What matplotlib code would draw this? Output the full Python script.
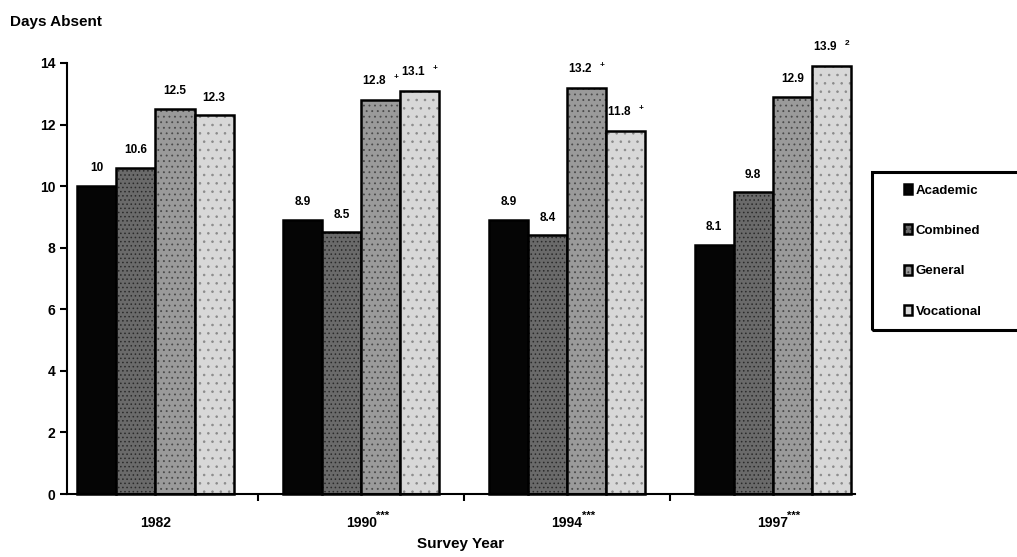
import matplotlib
matplotlib.use("Agg")
import matplotlib.pyplot as plt
import numpy as np
from matplotlib.patches import Rectangle

plt.rcParams["font.family"] = ["Liberation Sans", "DejaVu Sans"]
plt.rcParams["font.weight"] = "bold"
plt.rcParams["mathtext.fontset"] = "custom"
plt.rcParams["mathtext.rm"] = "Liberation Sans"
plt.rcParams["mathtext.bf"] = "Liberation Sans:bold"
plt.rcParams["hatch.linewidth"] = 0.6

years = ["1982", "1990", "1994", "1997"]
year_marks = ["", "***", "***", "***"]
tracks = ["Academic", "Combined", "General", "Vocational"]
academic = [10.0, 8.9, 8.9, 8.1]
combined = [10.6, 8.5, 8.4, 9.8]
general = [12.5, 12.8, 13.2, 12.9]
vocational = [12.3, 13.1, 11.8, 13.9]
notes = {
    "General": ["", "+", "+", ""],
    "Vocational": ["", "+", "+", "2"],
}

series = [academic, combined, general, vocational]
faces = ["#050505", "#6a6a6a", "#9a9a9a", "#d8d8d8"]
hatches = [None, "....", "...", ".."]
hatch_cols = ["#050505", "#2a2a2a", "#4a4a4a", "#8a8a8a"]

W, H = 1017, 557
fig = plt.figure(figsize=(W / 100, H / 100), dpi=100)
ax = fig.add_axes([67 / W, 63 / H, 788 / W, 431 / H])

x = np.arange(len(years))
w = 0.19
for i, (name, vals) in enumerate(zip(tracks, series)):
    xs = x + (i - 1.5) * w
    bars = ax.bar(xs, vals, w, color=faces[i], edgecolor="black", linewidth=1.8,
                  hatch=hatches[i], label=name, clip_on=False, zorder=2)
    for b in bars:
        b._hatch_color = matplotlib.colors.to_rgba(hatch_cols[i])
    marks = notes.get(name, [""] * len(years))
    for xi, v, m in zip(xs, vals, marks):
        lbl = f"{v:g}"
        if m:
            txt = r"$\mathbf{" + lbl + r"}\ \ ^{\mathbf{" + m + r"}}$"
        else:
            txt = lbl
        ax.text(xi, v + 0.38, txt, ha="center", va="bottom", fontsize=8.5,
                fontweight="bold", clip_on=False)

ax.set_xlim(-0.43, 3.40)
ax.set_ylim(0, 14)
ax.set_yticks(np.arange(0, 15, 2))
ax.set_xticks(x)
ax.set_xticklabels(years, fontsize=10)
ax.tick_params(axis="x", length=0, pad=16)
for xi, m in zip(x, year_marks):
    if m:
        ax.annotate(m, xy=(xi, 0), xycoords=("data", "axes fraction"),
                    xytext=(10.5, -16), textcoords="offset points",
                    ha="left", va="center", fontsize=8)
ax.set_xticks(x[:-1] + 0.5, minor=True)
ax.tick_params(axis="x", which="minor", length=5, width=1.5, direction="out")
ax.tick_params(axis="y", length=5, width=1.5, labelsize=10)
for lab in ax.get_yticklabels():
    lab.set_fontweight("bold")

for s in ["top", "right"]:
    ax.spines[s].set_visible(False)
for s in ["left", "bottom"]:
    ax.spines[s].set_linewidth(1.5)

ax.set_xlabel("Survey Year", fontsize=11, fontweight="bold", labelpad=5)
fig.text(0.01, 0.96, "Days Absent", fontsize=11, fontweight="bold", va="center")

# legend box runs off the right edge like the scan
fig.patches.append(Rectangle((872 / W, 1 - 330 / H), 160 / W, 158 / H,
                             transform=fig.transFigure, fill=False,
                             edgecolor="black", linewidth=2.2))
leg = ax.legend(loc="upper left", bbox_to_anchor=(904 / W, 1 - 184 / H),
                bbox_transform=fig.transFigure, frameon=False, fontsize=9.5,
                handlelength=0.6, handleheight=0.8, handletextpad=0.3,
                labelspacing=2.1, borderpad=0, borderaxespad=0)

fig.savefig("out.png", dpi=100)
